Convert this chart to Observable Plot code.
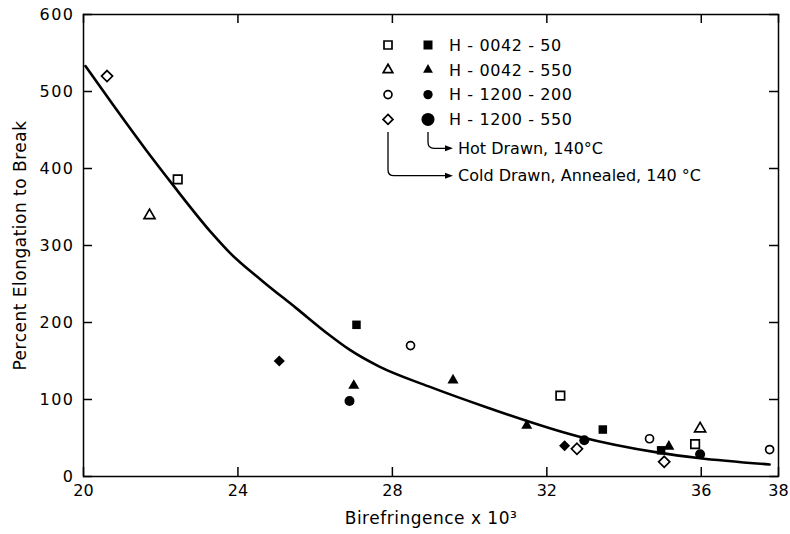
<!DOCTYPE html>
<html><head><meta charset="utf-8">
<script src="https://cdn.jsdelivr.net/npm/d3@7"></script>
<script src="https://cdn.jsdelivr.net/npm/@observablehq/plot@0.6"></script>
<style>
body{margin:0;background:#fff;}
#chart{position:relative;width:790px;height:534px;}
#legend{position:absolute;left:0;top:0;pointer-events:none;}
g[aria-label="y-axis tick label"] text{letter-spacing:1.5px;}
</style></head><body><div id="chart"></div>
<script>
// ---- data ----
const sampleNames = ["H - 0042 - 50", "H - 0042 - 550", "H - 1200 - 200", "H - 1200 - 550"];
const treatmentNotes = ["Hot Drawn, 140°C", "Cold Drawn, Annealed, 140 °C"];

// points: birefringence (x10^3), % elongation, shape, treatment
const birefringence = [22.44, 32.35, 35.84, 21.71, 35.97, 28.47, 34.66, 37.77, 20.61, 32.78, 35.04,
                       27.07, 33.45, 34.96, 27.0, 29.57, 31.48, 35.16, 25.07, 32.46, 26.89, 32.97, 35.97];
const elongation    = [386, 105, 42, 339, 62, 170, 49, 35, 520, 36, 19,
                       197, 61, 34, 118, 125, 66, 39, 150, 40, 98, 47, 29];
const shape         = ["square","square","square","triangle","triangle","circle","circle","circle","diamond2","diamond2","diamond2",
                       "square","square","square","triangle","triangle","triangle","triangle","diamond2","diamond2","circle","circle","circle"];
const treatment     = ["cold","cold","cold","cold","cold","cold","cold","cold","cold","cold","cold",
                       "hot","hot","hot","hot","hot","hot","hot","hot","hot","hot","hot","hot"];

// fitted curve
const curveX = [20.05, 20.76, 21.62, 22.31, 23.34, 23.78, 24.63, 25.5, 26.36, 26.88, 27.65, 28.94, 30.49, 32.82, 34.89, 35.92, 37.77];
const curveY = [533, 483, 424, 379, 315, 291, 254, 219, 184, 165, 143, 117, 89, 52, 31, 24, 15.6];

const xTicks = [20, 24, 28, 32, 36, 38];
const yTicks = [0, 100, 200, 300, 400, 500, 600];
const xDomain = [20, 38], yDomain = [0, 600];

// ---- build tables ----
const points = birefringence.map((b, i) => ({x: b, y: elongation[i], shape: shape[i], treatment: treatment[i]}));
const curve = curveX.map((x, i) => ({x, y: curveY[i]}));

const symR = {square: 4.8, triangle: 4.1, diamond2: 5.0};
const dotMarks = [];
for (const s of ["square", "triangle", "circle", "diamond2"]) {
  for (const t of ["cold", "hot"]) {
    const rows = points.filter(d => d.shape === s && d.treatment === t);
    if (!rows.length) continue;
    dotMarks.push(Plot.dot(rows, {
      x: "x", y: "y", symbol: s,
      r: s === "circle" ? (t === "cold" ? 4.0 : 5.0) : symR[s],
      fill: t === "cold" ? "white" : "black",
      stroke: t === "cold" ? "black" : "none",
      strokeWidth: 1.7
    }));
  }
}

// layout
const W = 790, H = 534, mL = 83, mR = 12, mT = 14, mB = 58;
const TICK = 9; // inward tick length in pixels
const tx = TICK * (xDomain[1] - xDomain[0]) / (W - mL - mR); // same length in x units
const ty = TICK * (yDomain[1] - yDomain[0]) / (H - mT - mB); // same length in y units
const FONT = "'DejaVu Sans', sans-serif";
const TICKCOLOR = "black";

const chart = Plot.plot({
  width: W, height: H,
  marginLeft: mL, marginRight: mR, marginTop: mT, marginBottom: mB,
  x: {domain: xDomain},
  y: {domain: yDomain},
  style: {fontFamily: FONT, fontSize: "16px", color: "#000", background: "#fff"},
  marks: [
    Plot.frame({stroke: "black", strokeWidth: 1.5}),
    Plot.axisX(xTicks, {anchor: "bottom", tickSize: 0, tickPadding: 8,
      label: "Birefringence x 10³", labelAnchor: "center", labelOffset: 47, labelArrow: false, fontSize: 16}),
    Plot.axisY(yTicks, {anchor: "left", tickSize: 0, tickPadding: 9,
      label: "Percent Elongation to Break", labelAnchor: "center", labelOffset: 70, labelArrow: false, fontSize: 16}),
    // inward ticks on all four sides
    Plot.ruleX(xTicks, {x: d => d, y1: yDomain[0], y2: yDomain[0] + ty, stroke: TICKCOLOR, strokeWidth: 1.5}),
    Plot.ruleX(xTicks, {x: d => d, y1: yDomain[1] - ty, y2: yDomain[1], stroke: TICKCOLOR, strokeWidth: 1.5}),
    Plot.ruleY(yTicks, {y: d => d, x1: xDomain[0], x2: xDomain[0] + tx, stroke: TICKCOLOR, strokeWidth: 1.5}),
    Plot.ruleY(yTicks, {y: d => d, x1: xDomain[1] - tx, x2: xDomain[1], stroke: TICKCOLOR, strokeWidth: 1.5}),
    Plot.line(curve, {x: "x", y: "y", curve: "monotone-x", stroke: "black", strokeWidth: 2.6}),
    ...dotMarks
  ]
});
document.getElementById("chart").appendChild(chart);
d3.select(chart).selectAll('g[aria-label="x-axis label"] text, g[aria-label="y-axis label"] text')
  .style("font-size", "17px").style("letter-spacing", "0.5px");

// ---- legend overlay (drawn with d3) ----
const legendSymbols = [
  {open: "square", openSize: 64, filled: "square", filledSize: 81},
  {open: "triangle", openSize: 40, filled: "triangle", filledSize: 42},
  {open: "circle", openSize: 50, filled: "circle", filledSize: 68},
  {open: "diamond2", openSize: 62, filled: "circle", filledSize: 133}
];
const symTypes = {square: d3.symbolSquare, triangle: d3.symbolTriangle, circle: d3.symbolCircle, diamond2: d3.symbolDiamond2};

const svg = d3.select("#chart").append("svg").attr("id", "legend")
  .attr("width", W).attr("height", H)
  .style("font-family", FONT).style("font-size", "16px");

const rowY = i => 45 + i * 24.8;
const colOpen = 388, colFilled = 428, textX = 449;

sampleNames.forEach((name, i) => {
  const L = legendSymbols[i];
  svg.append("path").attr("transform", `translate(${colOpen},${rowY(i)})`)
    .attr("d", d3.symbol(symTypes[L.open], L.openSize)())
    .attr("fill", "white").attr("stroke", "black").attr("stroke-width", 1.7);
  svg.append("path").attr("transform", `translate(${colFilled},${rowY(i)})`)
    .attr("d", d3.symbol(symTypes[L.filled], L.filledSize)())
    .attr("fill", "black");
  svg.append("text").attr("x", textX).attr("y", rowY(i)).attr("dy", "0.36em")
    .style("letter-spacing", "0.6px").text(name);
});

// arrows
const arrowEnd = 453;
const hotY = 148.3, coldY = 175.7;
svg.append("path").attr("d", `M${colFilled},132 V${hotY - 6} Q${colFilled},${hotY} ${colFilled + 6},${hotY} H${arrowEnd - 6}`)
  .attr("fill", "none").attr("stroke", "black").attr("stroke-width", 1.3);
svg.append("path").attr("d", `M${colOpen},132 V${coldY - 6} Q${colOpen},${coldY} ${colOpen + 6},${coldY} H${arrowEnd - 6}`)
  .attr("fill", "none").attr("stroke", "black").attr("stroke-width", 1.3);
for (const y of [hotY, coldY]) {
  svg.append("path").attr("d", `M${arrowEnd},${y} L${arrowEnd - 8},${y - 3} L${arrowEnd - 8},${y + 3} Z`).attr("fill", "black");
}
svg.append("text").attr("x", 458).attr("y", hotY).attr("dy", "0.36em").text(treatmentNotes[0]);
svg.append("text").attr("x", 458).attr("y", coldY).attr("dy", "0.36em").text(treatmentNotes[1]);
</script>
</body></html>
